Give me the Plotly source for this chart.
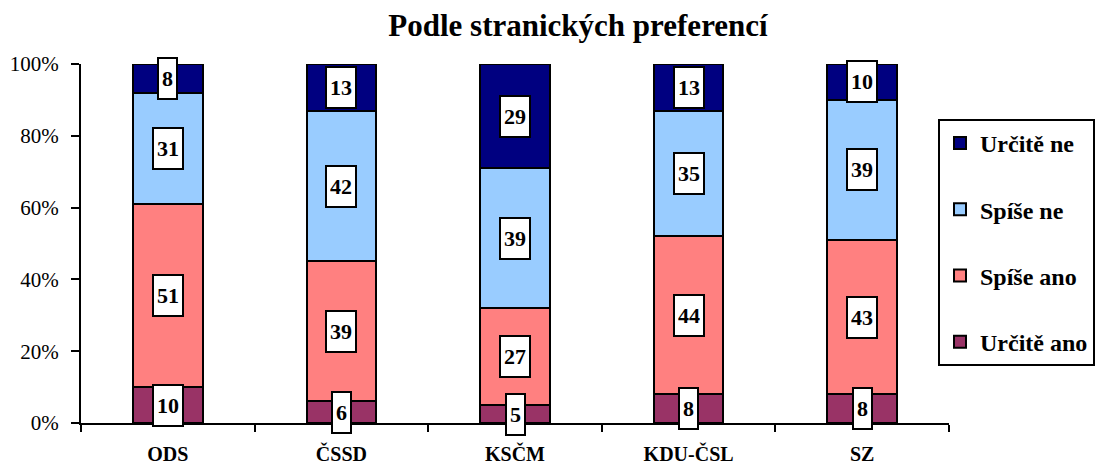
import plotly.graph_objects as go

categories = ["ODS", "ČSSD", "KSČM", "KDU-ČSL", "SZ"]
series_names = ["Určitě ano", "Spíše ano", "Spíše ne", "Určitě ne"]
urcite_ano = [10, 6, 5, 8, 8]
spise_ano = [51, 39, 27, 44, 43]
spise_ne = [31, 42, 39, 35, 39]
urcite_ne = [8, 13, 29, 13, 10]
y_tick_vals = [0, 20, 40, 60, 80, 100]
y_tick_text = ["0%", "20%", "40%", "60%", "80%", "100%"]
title_text = "Podle stranických preferencí"

series_values = [urcite_ano, spise_ano, spise_ne, urcite_ne]
colors = ["#993366", "#FF8080", "#99CCFF", "#000080"]
legend_ranks = [4, 3, 2, 1]

FONT = "Liberation Serif"

# page has an 8px body margin; figure sized so it fits the 1104x465 window
W, H = 1096, 457
L, T, R, B = 73, 56, 155, 42
plot_w = W - L - R
plot_h = H - T - B

fig = go.Figure()
for name, vals, col, rk in zip(series_names, series_values, colors, legend_ranks):
    fig.add_trace(go.Bar(
        x=categories, y=vals, name=f"<b>{name}</b>", legendgroup=name,
        legendrank=rk,
        marker=dict(color=col, line=dict(color="black", width=2)),
        width=0.4,
    ))

annotations = []
for ci, cat in enumerate(categories):
    base = 0
    for vals in series_values:
        v = vals[ci]
        annotations.append(dict(
            x=cat, y=base + v / 2, xref="x", yref="y",
            text=f"<b>{v}</b>", showarrow=False,
            font=dict(family=FONT, size=22, color="black"),
            bgcolor="white", bordercolor="black", borderwidth=2,
            borderpad=3, height=33,
        ))
        base += v

fig.update_layout(
    barmode="stack",
    width=W, height=H,
    margin=dict(l=L, r=R, t=T, b=B, autoexpand=False),
    paper_bgcolor="white", plot_bgcolor="white",
    title=dict(text=f"<b>{title_text}</b>", x=570 / W, xanchor="center",
               y=1 - 17 / H, yanchor="middle",
               font=dict(family=FONT, size=31, color="black")),
    font=dict(family=FONT, color="black"),
    annotations=annotations,
    legend=dict(
        x=(938 - 81) / plot_w, xanchor="left",
        y=(423 - 119) / plot_h, yanchor="top",
        traceorder="grouped", tracegroupgap=32,
        bordercolor="black", borderwidth=2, bgcolor="white",
        font=dict(family=FONT, size=24, color="black"),
        itemclick=False,
    ),
    showlegend=True,
)

fig.update_xaxes(
    showline=True, linecolor="black", linewidth=2,
    ticks="outside", tickson="boundaries", ticklen=7, tickwidth=2, tickcolor="black",
    tickfont=dict(family=FONT, size=20, color="black"),
    tickprefix="<b>", ticksuffix="</b>",
    ticklabelstandoff=12, automargin=False,
    showgrid=False, zeroline=False,
)
fig.update_yaxes(
    range=[0, 100], tickvals=y_tick_vals, ticktext=y_tick_text,
    showline=True, linecolor="black", linewidth=2,
    ticks="outside", ticklen=8, tickwidth=2, tickcolor="black",
    tickfont=dict(family=FONT, size=21, color="black"),
    ticklabelstandoff=8, automargin=False,
    showgrid=False, zeroline=False,
)

fig.write_html("out.html")
